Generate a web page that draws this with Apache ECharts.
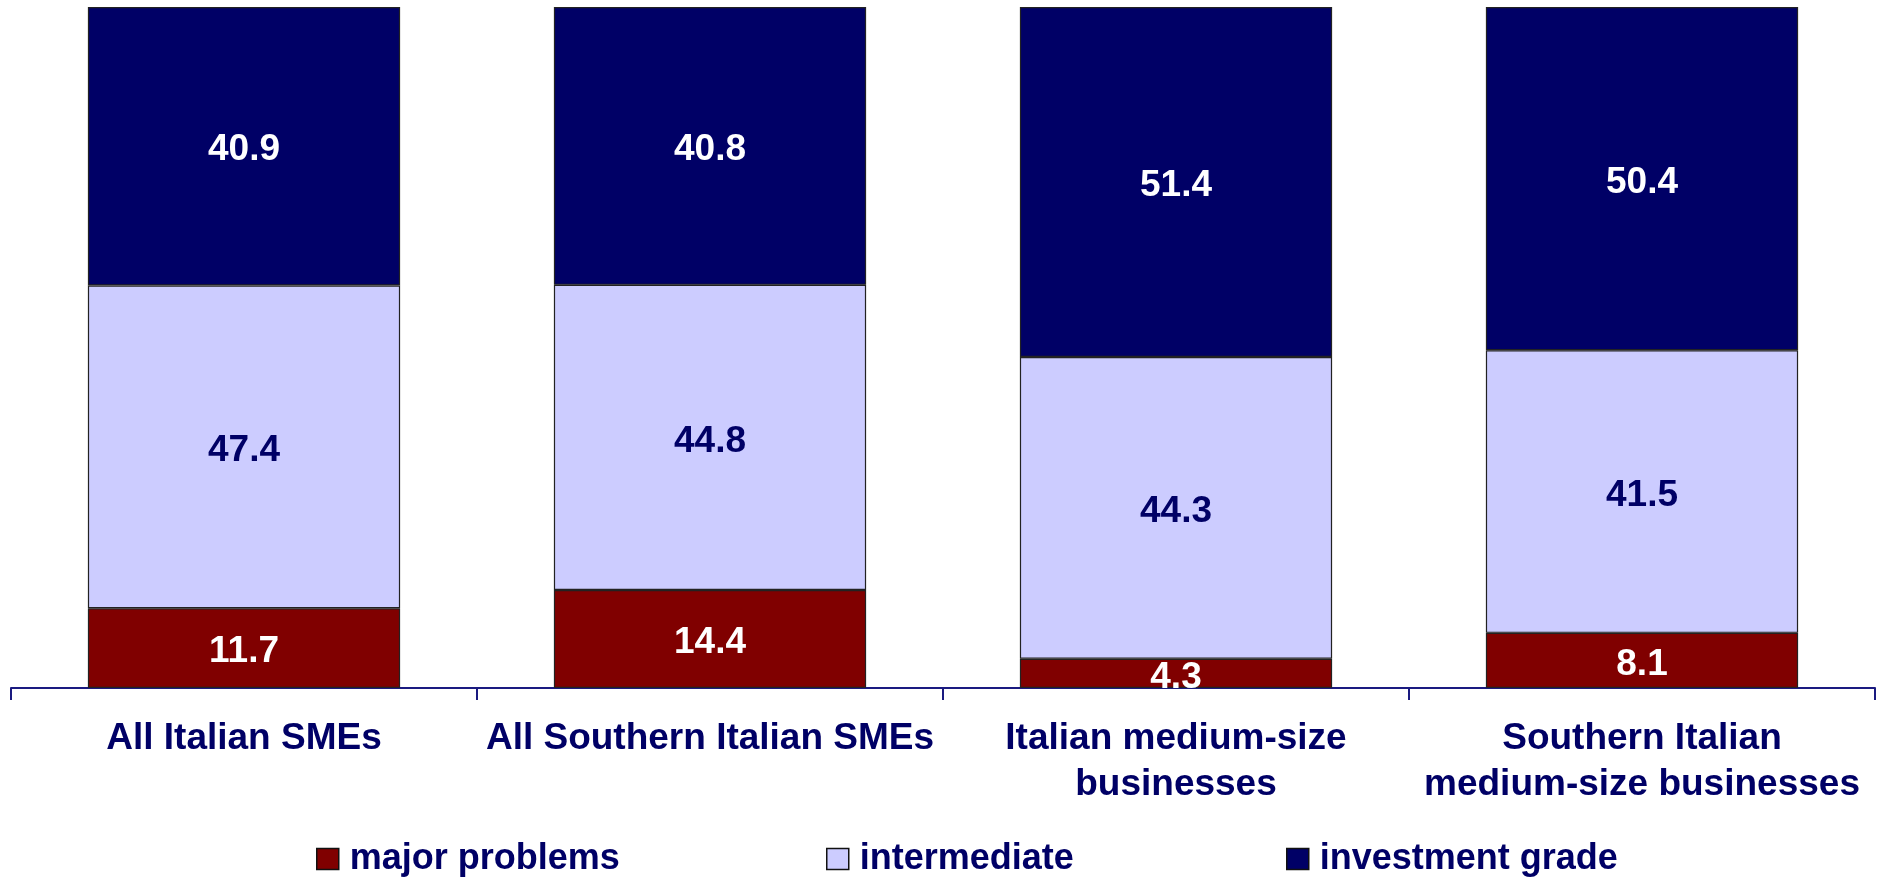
<!DOCTYPE html>
<html>
<head>
<meta charset="utf-8">
<script src="https://cdn.jsdelivr.net/npm/echarts@6/dist/echarts.min.js"></script>
<style>
html,body{margin:0;padding:0;background:#fff;}
#chart{width:1879px;height:878px;}
</style>
</head>
<body>
<div id="chart"></div>
<script>
const categories = ['All Italian SMEs', 'All Southern Italian SMEs', 'Italian medium-size\nbusinesses', 'Southern Italian\nmedium-size businesses'];
const majorProblems = [11.7, 14.4, 4.3, 8.1];
const intermediate = [47.4, 44.8, 44.3, 41.5];
const investmentGrade = [40.9, 40.8, 51.4, 50.4];
const seriesNames = ['major problems', 'intermediate', 'investment grade'];

const FONT = '"Liberation Sans", Arial, sans-serif';
const NAVY = '#000066';

function mkSeries(name, data, color, labelColor) {
  return {
    name: name,
    type: 'bar',
    stack: 'total',
    data: data,
    barCategoryGap: '33%',
    itemStyle: { color: color, borderColor: '#222', borderWidth: 1.2 },
    label: {
      show: true,
      position: 'inside',
      offset: [0, 4],
      color: labelColor,
      fontFamily: FONT,
      fontWeight: 'bold',
      fontSize: 37,
      formatter: p => p.value.toFixed(1)
    },
    emphasis: { disabled: true }
  };
}

const legendLefts = [311, 821, 1281];
const legendColors = ['#800000', '#ccccff', '#000066'];
const legends = seriesNames.map((n, i) => ({
  left: legendLefts[i],
  top: 836,
  icon: 'rect',
  itemWidth: 22,
  itemHeight: 21,
  textStyle: { color: NAVY, fontFamily: FONT, fontWeight: 'bold', fontSize: 36, padding: [0, 0, 0, 6] },
  itemStyle: { borderColor: '#111', borderWidth: 1.5 },
  data: [n]
}));

const chart = echarts.init(document.getElementById('chart'));
chart.setOption({
  animation: false,
  backgroundColor: '#fff',
  grid: { left: 11, right: 4, top: 7, bottom: 190, containLabel: false },
  legend: legends,
  xAxis: {
    type: 'category',
    data: categories,
    axisLine: { lineStyle: { color: '#1a1a80', width: 2 } },
    axisTick: { show: true, length: 12, lineStyle: { color: '#1a1a80', width: 2 } },
    axisLabel: {
      color: NAVY,
      fontFamily: FONT,
      fontWeight: 'bold',
      fontSize: 37,
      lineHeight: 46,
      margin: 28,
      interval: 0
    }
  },
  yAxis: {
    type: 'value',
    min: 0,
    max: 100,
    show: false,
    splitLine: { show: false }
  },
  series: [
    mkSeries(seriesNames[0], majorProblems, legendColors[0], '#ffffff'),
    mkSeries(seriesNames[1], intermediate, legendColors[1], NAVY),
    mkSeries(seriesNames[2], investmentGrade, legendColors[2], '#ffffff')
  ]
});
</script>
</body>
</html>
